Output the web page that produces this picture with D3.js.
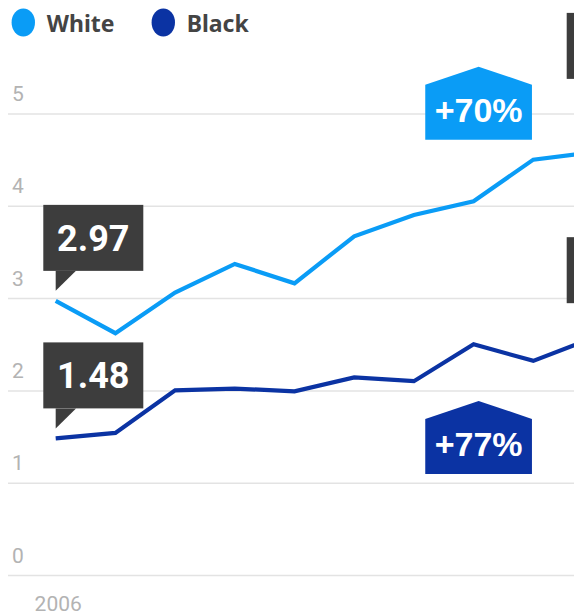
<!DOCTYPE html>
<html>
<head>
<meta charset="utf-8">
<script src="https://cdn.jsdelivr.net/npm/d3@7"></script>
<style>
  html, body { margin: 0; padding: 0; background: #fff; overflow: hidden; }
  svg { display: block; }
</style>
</head>
<body>
<script>
// ---- data ----
const years = [2006, 2007, 2008, 2009, 2010, 2011, 2012, 2013, 2014, 2015, 2016];
const whiteValues = [2.97, 2.62, 3.06, 3.37, 3.16, 3.67, 3.90, 4.05, 4.50, 4.58, 5.05];
const blackValues = [1.48, 1.54, 2.00, 2.02, 1.99, 2.14, 2.10, 2.50, 2.32, 2.57, 2.62];
const seriesNames = ["White", "Black"];
const seriesColors = ["#0a9cf6", "#0b33a3"];
const yTicks = [0, 1, 2, 3, 4, 5];
const xTickLabels = ["2006"];

const W = 574, H = 615;
const svg = d3.select("body").append("svg").attr("width", W).attr("height", H);

const x = d3.scaleLinear().domain([2006, 2007]).range([55.7, 115.4]);
const y = d3.scaleLinear().domain([0, 5]).range([575, 113.5]);

// gridlines + y labels
const yAxis = d3.axisLeft(y).tickValues(yTicks).tickSize(0).tickFormat(d3.format("d"));
const gY = svg.append("g").call(yAxis);
gY.select(".domain").remove();
gY.selectAll(".tick line").remove();
gY.selectAll(".tick").each(function(d) {
  const g = d3.select(this);
  g.append("line").attr("x1", 8).attr("x2", W + 200).attr("y1", 0).attr("y2", 0)
    .attr("stroke", "#e3e3e3").attr("stroke-width", 1.5);
  g.select("text").attr("x", 12).attr("y", -13).attr("dy", 0)
    .attr("text-anchor", "start")
    .attr("fill", "#b3b3b3").attr("font-family", "Roboto, sans-serif").attr("font-size", 21);
});

// x labels
const xAxis = d3.axisBottom(x).tickValues(xTickLabels.map(Number)).tickSize(0).tickFormat(d3.format("d"));
const gX = svg.append("g").attr("transform", `translate(0, ${y(0)})`).call(xAxis);
gX.select(".domain").remove();
gX.selectAll(".tick text").attr("x", 2).attr("y", 36).attr("dy", 0)
  .attr("fill", "#b3b3b3").attr("font-family", "Roboto, sans-serif").attr("font-size", 21);

// lines
const line = d3.line().x((d, i) => x(years[i])).y(d => y(d));
[whiteValues, blackValues].forEach((vals, k) => {
  svg.append("path").datum(vals).attr("d", line)
    .attr("fill", "none").attr("stroke", seriesColors[k]).attr("stroke-width", 4.2)
    .attr("stroke-linejoin", "miter");
});

// value callouts (first and last points)
function callout(px, py, label, anchorRight) {
  const boxW = 100, boxH = 66;
  const tipY = py - 10, boxBottom = py - 30;
  const g = svg.append("g");
  let bx, tri;
  if (!anchorRight) {
    bx = px - 12.4;
    tri = [[px, boxBottom], [px, tipY], [px + 20.3, boxBottom]];
  } else {
    bx = px - 86;
    tri = [[px, boxBottom], [px, tipY], [px - 20.3, boxBottom]];
  }
  g.append("rect").attr("x", bx).attr("y", boxBottom - boxH).attr("width", boxW).attr("height", boxH)
    .attr("fill", "#3d3d3d");
  g.append("path").attr("d", "M" + tri.map(p => p.join(",")).join("L") + "Z").attr("fill", "#3d3d3d");
  if (label) {
    g.append("text").attr("x", bx + boxW / 2).attr("y", boxBottom - boxH / 2 + 13)
      .attr("text-anchor", "middle").attr("fill", "#fff")
      .attr("font-family", "Roboto, sans-serif").attr("font-weight", 700).attr("font-size", 36)
      .text(label);
  }
}
[whiteValues, blackValues].forEach(vals => {
  const n = vals.length - 1;
  callout(x(years[0]), y(vals[0]), vals[0].toFixed(2), false);
  // end-of-series callout lies beyond the visible edge; only its box edge shows
  callout(x(years[n]), y(vals[n]), null, true);
});

// percent change badges
function badge(cx, peakY, color, label) {
  const w = 106.7, shoulder = 18, h = 73;
  const l = cx - w / 2, r = cx + w / 2;
  svg.append("path")
    .attr("d", `M${l},${peakY + shoulder}L${cx},${peakY}L${r},${peakY + shoulder}L${r},${peakY + h}L${l},${peakY + h}Z`)
    .attr("fill", color);
  svg.append("text").attr("x", cx).attr("y", peakY + 55.5)
    .attr("text-anchor", "middle").attr("fill", "#fff")
    .attr("font-family", "'Liberation Sans', Arial, sans-serif").attr("font-weight", 700).attr("font-size", 34)
    .text(label);
}
const pct = vals => "+" + Math.round((vals[vals.length - 1] / vals[0] - 1) * 100) + "%";
badge(x(2013) + 5, y(5.5) - 0.7, seriesColors[0], pct(whiteValues));
badge(x(2013) + 5, y(1.88) - 0.6, seriesColors[1], pct(blackValues));

// legend
const legX = [23.3, 163.3];
seriesNames.forEach((name, k) => {
  svg.append("ellipse").attr("cx", legX[k]).attr("cy", 22.5).attr("rx", 11.7).attr("ry", 14)
    .attr("fill", seriesColors[k]);
  svg.append("text").attr("x", legX[k] + 23.4).attr("y", 32.3)
    .attr("fill", "#444").attr("font-family", "'Noto Sans', sans-serif").attr("font-weight", 700)
    .attr("font-size", 23).text(name);
});
</script>
</body>
</html>
